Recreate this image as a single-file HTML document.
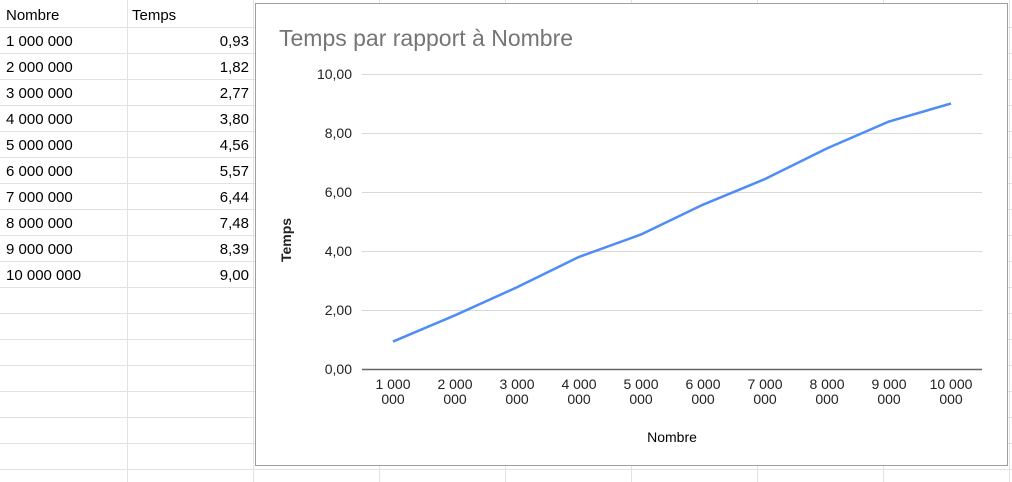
<!DOCTYPE html>
<html><head><meta charset="utf-8"><style>
body{margin:0;width:1012px;height:482px;overflow:hidden;background:#fff;font-family:"Liberation Sans",Arial,sans-serif;}
svg{position:absolute;left:0;top:0}
</style></head><body>
<svg width="1012" height="482">
<g id="grid"></g>
<g id="cells" font-size="15" fill="#000"></g>
<rect x="255.5" y="3.5" width="752" height="462" fill="#fff" stroke="#9e9e9e"/>
<text x="279" y="46" font-size="23" fill="#757575">Temps par rapport à Nombre</text>
<g id="chart"></g>
<text x="672" y="442" font-size="14" text-anchor="middle">Nombre</text>
<text transform="translate(291,240) rotate(-90)" font-size="14" font-weight="bold" text-anchor="middle" fill="#222">Temps</text>
</svg>
<script>
const categories=["1 000 000","2 000 000","3 000 000","4 000 000","5 000 000","6 000 000","7 000 000","8 000 000","9 000 000","10 000 000"];
const temps=[0.93,1.82,2.77,3.80,4.56,5.57,6.44,7.48,8.39,9.00];
const yTicks=[0,2,4,6,8,10];
const NS="http://www.w3.org/2000/svg";
function mk(parent,tag,attrs,txt){const e=document.createElementNS(NS,tag);for(const k in attrs)e.setAttribute(k,attrs[k]);if(txt!=null)e.textContent=txt;parent.appendChild(e);return e;}
const grid=document.getElementById('grid');
for(let y=27;y<482;y+=26){const l=mk(grid,'line',{x1:0,x2:1012,y1:y+0.5,y2:y+0.5,stroke:'#e2e2e2'});

}
for(let x=127;x<1012;x+=126){const l=mk(grid,'line',{x1:x+0.5,x2:x+0.5,y1:0,y2:482,stroke:'#e2e2e2'});

}
const cells=document.getElementById('cells');
const fmt=v=>v.toFixed(2).replace('.',',');
let h1=mk(cells,'text',{x:6,y:20},'Nombre');


let h2=mk(cells,'text',{x:132,y:20},'Temps');


categories.forEach((c,i)=>{const y=46+26*i;
const a=mk(cells,'text',{x:6,y:y},c);


const b=mk(cells,'text',{x:249,y:y,'text-anchor':'end'},fmt(temps[i]));

});
const chart=document.getElementById('chart');
const X=i=>393+62*i, Y=v=>369-29.5*v;
yTicks.forEach(t=>{
const g=mk(chart,'line',{x1:362,x2:982,y1:Y(t)+0.5,y2:Y(t)+0.5,stroke:t===0?'#666':'#d9d9d9','stroke-width':t===0?1.5:1});


const l=mk(chart,'text',{x:352,y:Y(t)+5,'text-anchor':'end','font-size':14,fill:'#222'},fmt(t));

});
categories.forEach((c,i)=>{const p=c.split(' ');const first=p.slice(0,p.length-1).join(' ');
const t=mk(chart,'text',{'text-anchor':'middle','font-size':14,fill:'#222'});


mk(t,'tspan',{x:X(i),y:389},first);mk(t,'tspan',{x:X(i),y:404},p[p.length-1]);});
const line=mk(chart,'polyline',{points:temps.map((v,i)=>X(i)+','+Y(v)).join(' '),fill:'none',stroke:'#4f8df5','stroke-width':2.5,'stroke-linejoin':'round'});


</script>
</body></html>
